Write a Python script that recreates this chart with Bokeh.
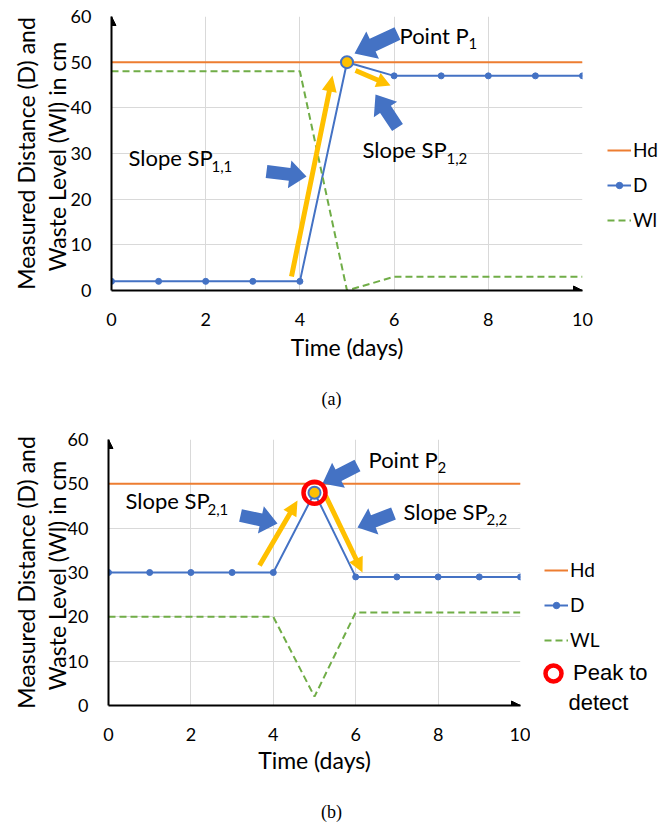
import math
from bokeh.plotting import figure
from bokeh.models import (Legend, LegendItem, Label, Arrow, NormalHead,
                          FixedTicker, Range1d)
from bokeh.layouts import column, row
from bokeh.embed import file_html
from bokeh.resources import INLINE

# ---------------- data ----------------
time_days = [0, 1, 2, 3, 4, 5, 6, 7, 8, 9, 10]
hd_a = [50, 50, 50, 50, 50, 50, 50, 50, 50, 50, 50]
d_a = [2, 2, 2, 2, 2, 50, 47, 47, 47, 47, 47]
wl_a = [48, 48, 48, 48, 48, 0, 3, 3, 3, 3, 3]
hd_b = [50, 50, 50, 50, 50, 50, 50, 50, 50, 50, 50]
d_b = [30, 30, 30, 30, 30, 48, 29, 29, 29, 29, 29]
wl_b = [20, 20, 20, 20, 20, 2, 21, 21, 21, 21, 21]
x_ticks = [0, 2, 4, 6, 8, 10]
y_ticks = [0, 10, 20, 30, 40, 50, 60]
names_a = ["Hd", "D", "Wl"]
names_b = ["Hd", "D", "WL"]
peak_name = ["Peak to", "detect"]
x_title = "Time (days)"
y_title = "Measured Distance (D) and\nWaste Level (Wl)  in cm"
captions = ["(a)", "(b)"]

# ---------------- style ----------------
ORANGE = "#ED7D31"
BLUE = "#4472C4"
GREEN = "#70AD47"
YELLOW = "#FFC000"
RED = "#FF0000"
GRID = "#D9D9D9"
FONT = "Lato"
XMIN, XMAX, YMIN, YMAX = 0, 10, 0, 60
PAGE_W = 660
NAN = [float("nan")]   # legend-only renderers (draw nothing in the plot)


def block_arrow(tail, tip, shaft, head_w, head_len):
    dx, dy = tip[0] - tail[0], tip[1] - tail[1]
    L = math.hypot(dx, dy)
    ux, uy = dx / L, dy / L
    nx, ny = -uy, ux
    bx, by = tip[0] - ux * head_len, tip[1] - uy * head_len
    return [
        (tail[0] + nx * shaft / 2, tail[1] + ny * shaft / 2),
        (bx + nx * shaft / 2, by + ny * shaft / 2),
        (bx + nx * head_w / 2, by + ny * head_w / 2),
        tip,
        (bx - nx * head_w / 2, by - ny * head_w / 2),
        (bx - nx * shaft / 2, by - ny * shaft / 2),
        (tail[0] - nx * shaft / 2, tail[1] - ny * shaft / 2),
    ]


def pixel_fig(w, h):
    f = figure(width=w, height=h, x_range=Range1d(0, w), y_range=Range1d(0, h),
               x_axis_type=None, y_axis_type=None, toolbar_location=None,
               output_backend="svg", min_border=0)
    f.outline_line_color = None
    f.background_fill_color = "white"
    f.border_fill_color = "white"
    if "frame_align" in type(f).properties():
        f.frame_align = False
    return f


def build(hd, d, wl, names, g, ann, ring=False):
    L = g["bl"]                  # page x of frame left
    T = g["oy"] + g["bt"]        # page y of frame top
    fw, fh = g["fw"], g["fh"]

    def to_data(px, py):
        return (XMIN + (px - L) / fw * (XMAX - XMIN),
                YMIN + (T + fh - py) / fh * (YMAX - YMIN))

    p = figure(frame_width=fw, frame_height=fh,
               x_range=Range1d(XMIN, XMAX), y_range=Range1d(YMIN, YMAX),
               output_backend="svg", toolbar_location=None,
               min_border_left=g["bl"], min_border_right=g["br"],
               min_border_top=g["bt"], min_border_bottom=g["bb"])
    p.outline_line_color = None
    p.background_fill_color = "white"
    p.border_fill_color = "white"
    if "frame_align" in type(p).properties():
        p.frame_align = False

    p.xaxis.ticker = FixedTicker(ticks=x_ticks)
    p.yaxis.ticker = FixedTicker(ticks=y_ticks)
    p.xgrid.ticker = FixedTicker(ticks=x_ticks)
    p.ygrid.ticker = FixedTicker(ticks=y_ticks)
    p.xgrid.grid_line_color = GRID
    p.ygrid.grid_line_color = GRID
    for ax in (p.xaxis[0], p.yaxis[0]):
        ax.axis_line_color = "black"
        ax.axis_line_width = 2
        ax.major_tick_line_color = None
        ax.minor_tick_line_color = None
        ax.major_tick_out = 0
        ax.major_tick_in = 0
        ax.major_label_text_font = FONT
        ax.major_label_text_font_size = "18px"
        ax.major_label_text_color = "black"
        ax.axis_label_text_font = FONT
        ax.axis_label_text_font_size = "23px"
        ax.axis_label_text_font_style = "normal"
        ax.axis_label_text_color = "black"
        ax.axis_label_text_line_height = 1.1
    p.xaxis.axis_label = x_title
    p.yaxis.axis_label = y_title
    p.xaxis.major_label_standoff = 22
    p.xaxis.axis_label_standoff = g["xls"]
    p.yaxis.major_label_standoff = 20
    p.yaxis.axis_label_standoff = g["yls"]

    # axis arrow heads
    p.add_layout(Arrow(end=NormalHead(size=9, fill_color="black", line_color="black", line_width=1),
                       x_start=XMAX - 0.2, y_start=YMIN, x_end=XMAX, y_end=YMIN, line_alpha=0))
    p.add_layout(Arrow(end=NormalHead(size=9, fill_color="black", line_color="black", line_width=1),
                       x_start=XMIN, y_start=YMAX - 1, x_end=XMIN, y_end=YMAX, line_alpha=0))

    p.line(time_days, hd, line_color=ORANGE, line_width=2)
    p.line(time_days, d, line_color=BLUE, line_width=2)
    p.line(time_days, wl, line_color=GREEN, line_width=2, line_dash="7 4")

    for key, col in (("blue", BLUE), ("yellow", YELLOW)):
        xs, ys = [], []
        for tail, tip, sw, hw, hl in ann[key]:
            pts = [to_data(*q) for q in block_arrow(tail, tip, sw, hw, hl)]
            xs.append([q[0] for q in pts])
            ys.append([q[1] for q in pts])
        p.patches(xs, ys, fill_color=col, line_color=None)

    p.scatter(time_days, d, size=6, marker="circle", fill_color=BLUE, line_color=BLUE)
    k = d.index(max(d))
    p.scatter([time_days[k]], [d[k]], size=12, marker="circle", fill_color=YELLOW,
              line_color=BLUE, line_width=2)
    if ring:
        p.scatter([time_days[k]], [d[k]], size=22, marker="circle",
                  fill_color=None, line_color=RED, line_width=4.5)

    for txt, pos, size in ann["texts"]:
        x, y = to_data(*pos)
        p.add_layout(Label(x=x, y=y, text=txt, text_font=FONT, text_font_size=size,
                           text_baseline="middle", text_align="left", text_color="black"))

    # ---- legend panel (separate pixel-space figure to the right) ----
    lx0 = g["bl"] + fw + g["br"]
    lw = PAGE_W - lx0
    lh = g["h"]
    lf = pixel_fig(lw, lh)

    def lpos(px, py):
        return px - lx0, lh - (py - g["oy"])

    s_hd = lf.line(NAN, NAN, line_color=ORANGE, line_width=2)
    s_d = lf.line(NAN, NAN, line_color=BLUE, line_width=2)
    s_dot = lf.scatter(NAN, NAN, size=6, marker="circle", fill_color=BLUE, line_color=BLUE)
    s_wl = lf.line(NAN, NAN, line_color=GREEN, line_width=2, line_dash="7 4")
    items = [LegendItem(label=names[0], renderers=[s_hd]),
             LegendItem(label=names[1], renderers=[s_d, s_dot]),
             LegendItem(label=names[2], renderers=[s_wl])]
    lx, ly = lpos(*ann["legend_bl"])
    lf.add_layout(Legend(items=items, location=(lx, ly), orientation="vertical",
                         glyph_width=24, glyph_height=16, label_height=20, spacing=12,
                         padding=0, margin=0, label_standoff=2, border_line_color=None,
                         background_fill_alpha=0, label_text_font=FONT,
                         label_text_font_size="19px", label_text_color="black"))
    if ring:
        s_ring = lf.scatter(NAN, NAN, size=22, marker="circle", fill_color=None,
                            line_color=RED, line_width=4.5)
        px, py = lpos(*ann["peak_bl"])
        lf.add_layout(Legend(items=[LegendItem(label=peak_name[0], renderers=[s_ring])],
                             location=(px, py), glyph_width=40, glyph_height=40,
                             label_height=20, padding=0, margin=0, label_standoff=-9,
                             border_line_color=None, background_fill_alpha=0,
                             label_text_font="Liberation Sans", label_text_font_size="22px",
                             label_text_color="black"))
        dx, dy = lpos(*ann["detect_pos"])
        lf.add_layout(Label(x=dx, y=dy, text=peak_name[1], text_font="Liberation Sans",
                            text_font_size="22px", text_baseline="middle",
                            text_align="left", text_color="black"))
    return row(p, lf, spacing=0)


def caption_fig(text, top, h, cx, cy):
    f = pixel_fig(PAGE_W, h)
    f.add_layout(Label(x=cx, y=h - (cy - top), text=text, text_font="Liberation Serif",
                       text_font_size="18px", text_baseline="middle",
                       text_align="center", text_color="black"))
    return f


HA, CA, HB, CB = 370, 42, 373, 39
geom_a = dict(oy=0, bl=111, bt=16, fw=471, fh=274, br=14, h=HA, bb=HA - 16 - 274,
              xls=4, yls=-3)
geom_b = dict(oy=HA + CA, bl=108, bt=27, fw=412, fh=266, br=10, h=HB, bb=HB - 27 - 266,
              xls=2, yls=-6)

ann_a = dict(
    blue=[((397, 33), (354, 53), 14, 30, 20),
          ((266, 171), (306, 176), 13, 28, 17),
          ((397, 127), (375, 94), 13, 28, 18)],
    yellow=[((291, 276), (332, 75), 5, 15, 16),
            ((355, 70), (390, 85), 5, 15, 14)],
    texts=[("Slope SP", (128, 157), "22px"), ("1,1", (211, 166), "15px"),
           ("Point P", (399, 35), "22px"), ("1", (468, 43), "15px"),
           ("Slope SP", (362, 149), "22px"), ("1,2", (446, 158), "15px")],
    legend_bl=(607, 231),
)
ann_b = dict(
    blue=[((357, 465), (322, 483), 13, 28, 18),
          ((240, 515), (277, 523), 13, 28, 17),
          ((393, 513), (357, 527), 13, 28, 17)],
    yellow=[((259, 565), (297, 500), 5, 15, 15),
            ((325, 495), (362, 572), 5, 15, 15)],
    texts=[("Slope SP", (125, 500), "22px"), ("2,1", (207, 509), "15px"),
           ("Point P", (368, 459), "22px"), ("2", (437, 467), "15px"),
           ("Slope SP", (403, 511), "22px"), ("2,2", (486, 519), "15px")],
    legend_bl=(544, 651),
    peak_bl=(533, 693),
    detect_pos=(568, 702),
)

chart_a = build(d=d_a, hd=hd_a, wl=wl_a, names=names_a, g=geom_a, ann=ann_a)
cap_a = caption_fig(captions[0], HA, CA, 331, 398)
chart_b = build(d=d_b, hd=hd_b, wl=wl_b, names=names_b, g=geom_b, ann=ann_b, ring=True)
cap_b = caption_fig(captions[1], HA + CA + HB, CB, 331, 811)

layout = column(chart_a, cap_a, chart_b, cap_b, spacing=0)
open("out.html", "w").write(file_html(layout, INLINE, "chart"))
